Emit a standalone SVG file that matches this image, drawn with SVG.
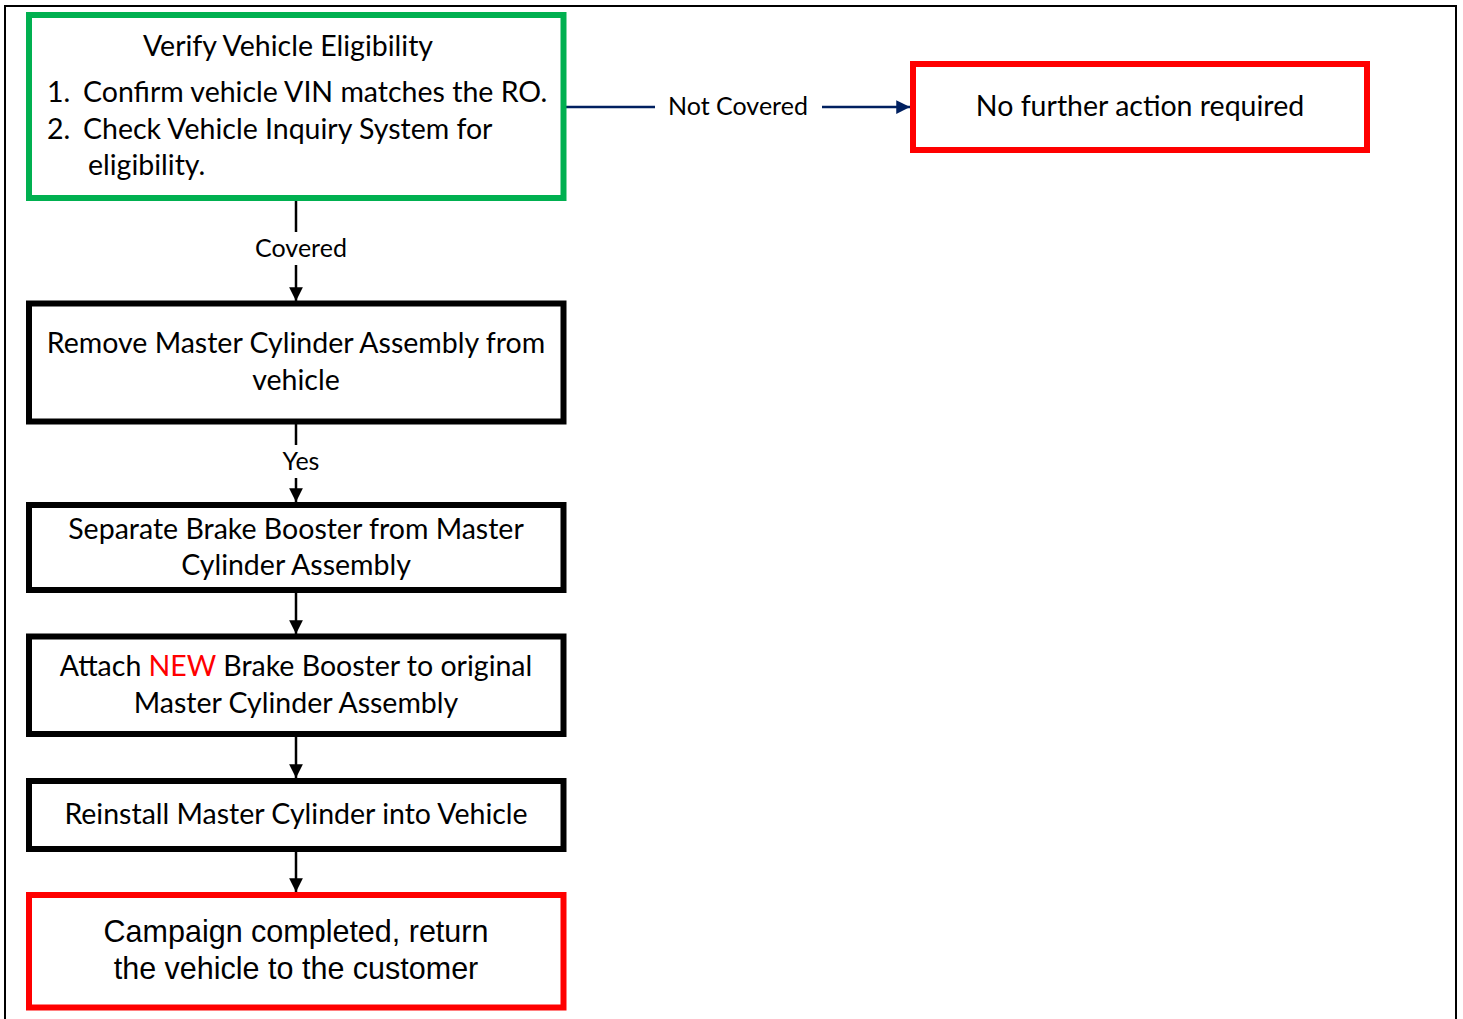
<svg xmlns="http://www.w3.org/2000/svg" width="1463" height="1019" viewBox="0 0 1463 1019">
<defs>
<style>
.t{font-family:Lato,"Noto Sans",sans-serif;font-size:28.5px;fill:#000}
.l{font-family:Lato,"Noto Sans",sans-serif;font-size:25px;fill:#000}
.a{font-family:"Liberation Sans",Arial,sans-serif;font-size:30.5px;fill:#000}
.box{fill:#fff;stroke:#000;stroke-width:6}
.red{fill:#fff;stroke:#ff0000;stroke-width:6}
.grn{fill:#fff;stroke:#00b050;stroke-width:6}
.c{stroke:#000;stroke-width:2.5;fill:none}
.n{stroke:#002060;stroke-width:2.5;fill:none}
</style>
<marker id="ab" viewBox="0 0 10 10" refX="10" refY="5" markerWidth="5.5" markerHeight="5.5" orient="auto" markerUnits="strokeWidth"><path d="M0,0L10,5L0,10z" fill="#000"/></marker>
<marker id="an" viewBox="0 0 10 10" refX="10" refY="5" markerWidth="5.5" markerHeight="5.5" orient="auto" markerUnits="strokeWidth"><path d="M0,0L10,5L0,10z" fill="#002060"/></marker>
</defs>
<rect x="0" y="0" width="1463" height="1019" fill="#fff"/>
<path d="M5,1019V6H1456V1019" fill="none" stroke="#000" stroke-width="2"/>
<g id="connectors">
<line class="n" x1="566" y1="107" x2="655" y2="107"/>
<line class="n" x1="822" y1="107" x2="910" y2="107" marker-end="url(#an)"/>
<text class="l" x="738" y="115" text-anchor="middle">Not Covered</text>
<line class="c" x1="296" y1="200" x2="296" y2="232"/>
<line class="c" x1="296" y1="265" x2="296" y2="301" marker-end="url(#ab)"/>
<text class="l" x="301" y="257" text-anchor="middle">Covered</text>
<line class="c" x1="296" y1="424" x2="296" y2="445"/>
<line class="c" x1="296" y1="478" x2="296" y2="502" marker-end="url(#ab)"/>
<text class="l" x="301" y="470" text-anchor="middle">Yes</text>
<line class="c" x1="296" y1="593" x2="296" y2="634" marker-end="url(#ab)"/>
<line class="c" x1="296" y1="737" x2="296" y2="778" marker-end="url(#ab)"/>
<line class="c" x1="296" y1="852" x2="296" y2="892" marker-end="url(#ab)"/>
</g>
<g id="verify">
<rect class="grn" x="29" y="15" width="534.5" height="183"/>
<text class="t" x="288" y="56" text-anchor="middle">Verify Vehicle Eligibility</text>
<text class="t" x="47" y="102">1.</text><text class="t" x="83" y="102">Confirm vehicle VIN matches the RO.</text>
<text class="t" x="47" y="139">2.</text><text class="t" x="83" y="139">Check Vehicle Inquiry System for</text>
<text class="t" x="88" y="175">eligibility.</text>
</g>
<g id="nofurther">
<rect class="red" x="913" y="64" width="454" height="86"/>
<text class="t" x="1140" y="116" text-anchor="middle">No further action required</text>
</g>
<g id="remove">
<rect class="box" x="29" y="303.5" width="534.5" height="118"/>
<text class="t" x="296" y="353" text-anchor="middle">Remove Master Cylinder Assembly from</text>
<text class="t" x="296" y="390" text-anchor="middle">vehicle</text>
</g>
<g id="separate">
<rect class="box" x="29" y="505" width="534.5" height="85"/>
<text class="t" x="296" y="539" text-anchor="middle">Separate Brake Booster from Master</text>
<text class="t" x="296" y="575" text-anchor="middle">Cylinder Assembly</text>
</g>
<g id="attach">
<rect class="box" x="29" y="636.5" width="534.5" height="97.5"/>
<text class="t" x="296" y="676" text-anchor="middle">Attach <tspan fill="#ff0000">NEW</tspan> Brake Booster to original</text>
<text class="t" x="296" y="713" text-anchor="middle">Master Cylinder Assembly</text>
</g>
<g id="reinstall">
<rect class="box" x="29" y="781" width="534.5" height="68"/>
<text class="t" x="296" y="824" text-anchor="middle">Reinstall Master Cylinder into Vehicle</text>
</g>
<g id="complete">
<rect class="red" x="29" y="895" width="534.5" height="112.5"/>
<text class="a" x="296" y="942" text-anchor="middle">Campaign completed, return</text>
<text class="a" x="296" y="979" text-anchor="middle">the vehicle to the customer</text>
</g>
</svg>
